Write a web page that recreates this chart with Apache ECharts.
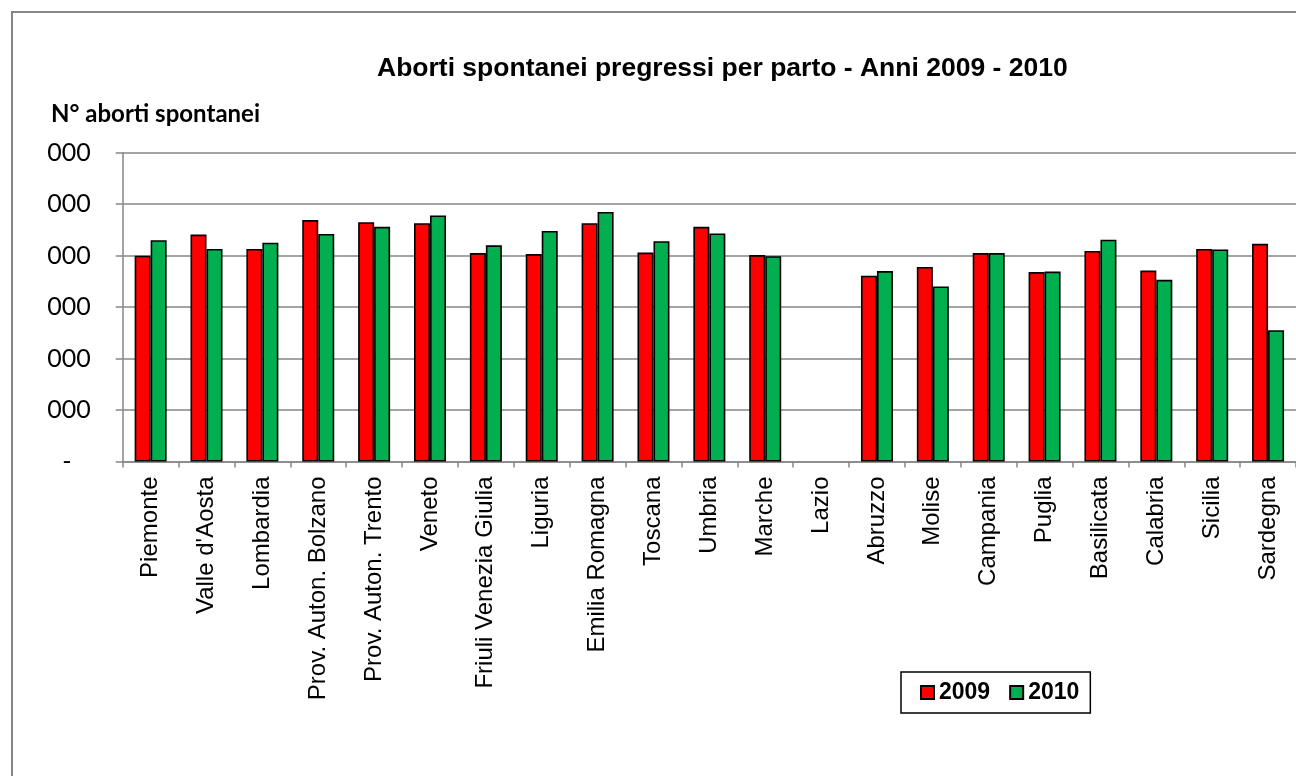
<!DOCTYPE html>
<html>
<head>
<meta charset="utf-8">
<title>Aborti spontanei pregressi per parto</title>
<script src="https://cdn.jsdelivr.net/npm/echarts@6/dist/echarts.min.js"></script>
<style>
  html, body { margin: 0; padding: 0; background: #fff; }
  #chart { width: 1296px; height: 776px; }
</style>
</head>
<body>
<div id="chart"></div>
<script>
// regioni
const categories = [
  'Piemonte', "Valle d'Aosta", 'Lombardia', 'Prov. Auton. Bolzano', 'Prov. Auton. Trento',
  'Veneto', 'Friuli Venezia Giulia', 'Liguria', 'Emilia Romagna', 'Toscana', 'Umbria',
  'Marche', 'Lazio', 'Abruzzo', 'Molise', 'Campania', 'Puglia', 'Basilicata',
  'Calabria', 'Sicilia', 'Sardegna'
]

// valori (Lazio non disponibile)
const values2009 = [4.00, 4.41, 4.13, 4.69, 4.65, 4.63, 4.05, 4.03, 4.63, 4.06, 4.56,
  4.01, null, 3.61, 3.78, 4.05, 3.68, 4.09, 3.71, 4.13, 4.23]
const values2010 = [4.30, 4.13, 4.25, 4.42, 4.56, 4.78, 4.20, 4.48, 4.85, 4.28, 4.43,
  3.99, null, 3.70, 3.40, 4.05, 3.69, 4.31, 3.53, 4.12, 2.55]

const seriesNames = ['2009', '2010']
const yTicks = [0, 1, 2, 3, 4, 5, 6]

const gridColor = '#868686'

const chart = echarts.init(document.getElementById('chart'))

const barStyle = (color) => ({
  color: color,
  borderColor: '#000',
  borderWidth: 1.6
})

const option = {
  animation: false,
  backgroundColor: '#fff',
  title: [
    {
      text: 'Aborti spontanei pregressi per parto - Anni 2009 - 2010',
      left: 372,
      top: 50,
      textStyle: { fontFamily: 'Liberation Sans', fontSize: 26.5, fontWeight: 'bold', color: '#000' }
    },
    {
      text: 'N° aborti spontanei',
      left: 46,
      top: 97,
      textStyle: { fontFamily: 'Lato', fontSize: 24, fontWeight: 'bold', color: '#000' }
    }
  ],
  legend: {
    data: seriesNames,
    left: 901,
    top: 672,
    padding: [9, 11, 9, 19],
    itemWidth: 13,
    itemHeight: 13,
    itemGap: 19,
    icon: 'rect',
    borderColor: '#000',
    borderWidth: 1.5,
    textStyle: { fontFamily: 'Liberation Sans', fontSize: 23, fontWeight: 'bold', color: '#000' }
  },
  grid: {
    left: 122.7,
    right: -11,
    top: 152.7,
    bottom: 314.5,
    containLabel: false
  },
  xAxis: {
    type: 'category',
    data: categories,
    axisLine: { lineStyle: { color: gridColor, width: 1.5 } },
    axisTick: { show: true, length: 6, lineStyle: { color: gridColor, width: 1.5 } },
    axisLabel: {
      rotate: 90,
      margin: 15,
      interval: 0,
      fontFamily: 'Liberation Sans',
      fontSize: 24,
      color: '#000'
    }
  },
  yAxis: {
    type: 'value',
    min: yTicks[0],
    max: yTicks[yTicks.length - 1],
    interval: 1,
    axisLine: { show: true, lineStyle: { color: gridColor, width: 1.5 } },
    axisTick: { show: true, length: 7, lineStyle: { color: gridColor, width: 1.5 } },
    splitLine: { lineStyle: { color: gridColor, width: 1.5 } },
    axisLabel: {
      margin: 32,
      fontFamily: 'Lato',
      fontSize: 25,
      color: '#000',
      formatter: (v) => (v === 0 ? '-   ' : '000')
    }
  },
  series: [
    {
      name: seriesNames[0],
      type: 'bar',
      data: values2009,
      barWidth: 16,
      barGap: '0%',
      itemStyle: barStyle('#ff0000')
    },
    {
      name: seriesNames[1],
      type: 'bar',
      data: values2010,
      barWidth: 16,
      barGap: '0%',
      itemStyle: barStyle('#00b050')
    }
  ],
  graphic: [
    {
      type: 'rect',
      shape: { x: 12, y: 12, width: 1320, height: 800 },
      style: { fill: null, stroke: gridColor, lineWidth: 2 },
      silent: true
    }
  ]
}

chart.setOption(option)
</script>
</body>
</html>
